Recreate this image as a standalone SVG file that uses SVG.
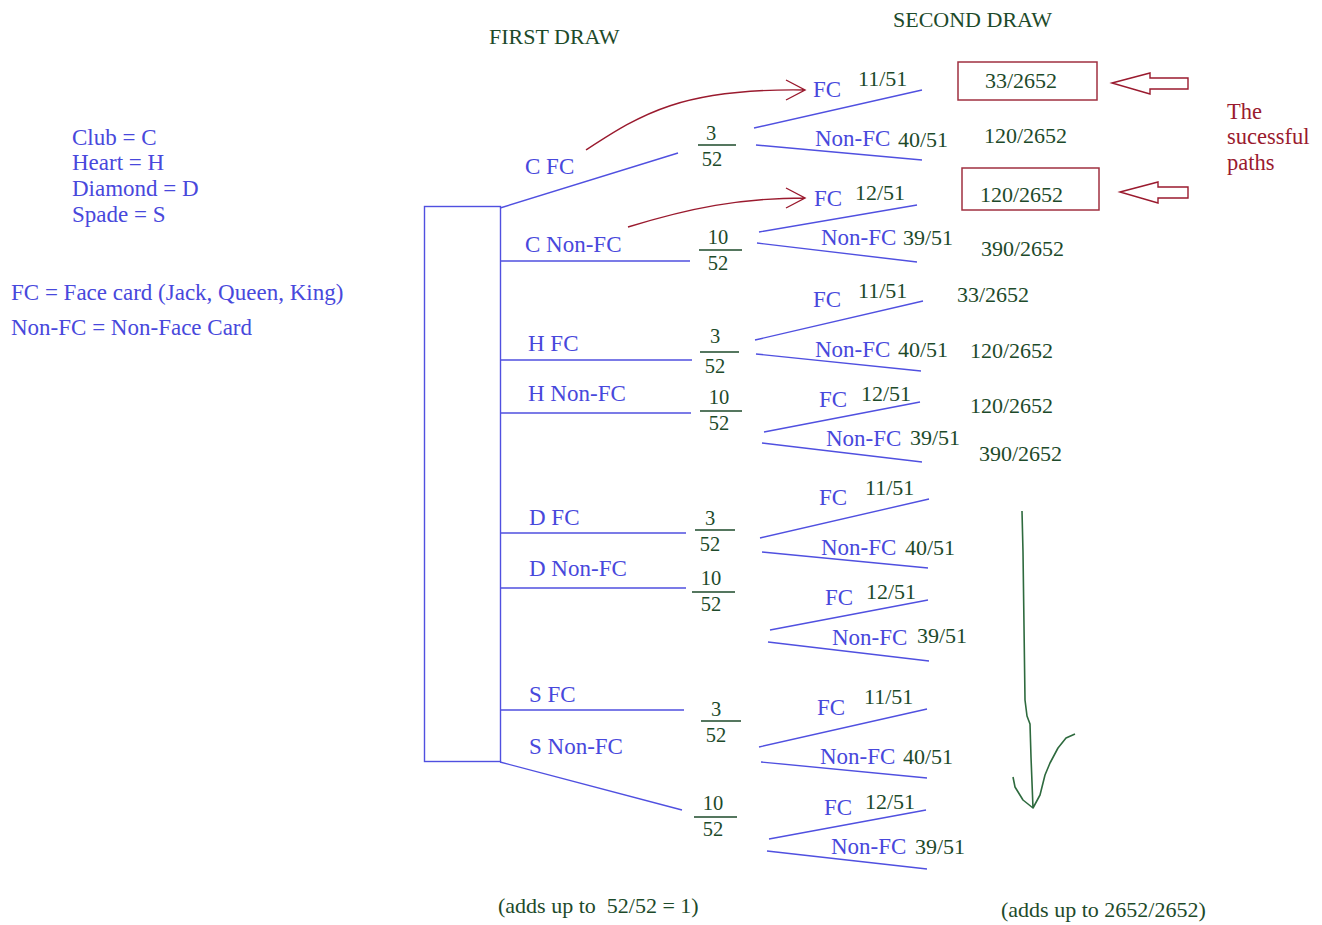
<svg xmlns="http://www.w3.org/2000/svg" width="1322" height="925" viewBox="0 0 1322 925">
<style>
text{font-family:"Liberation Serif","Times New Roman",serif;white-space:pre}
.b{fill:#4848dc;font-size:23px}
.g{fill:#1d4a2a;font-size:22px}
.f{fill:#1d4a2a;font-size:20.5px;text-anchor:middle}
.r{fill:#9a1a2e;font-size:22.5px}
.bl{stroke:#5050e0;stroke-width:1.4;fill:none}
.gl{stroke:#1d4a2a;stroke-width:1.3}
.rl{stroke:#9a1a2e;stroke-width:1.4;fill:none}
.box{stroke:#a03040;stroke-width:1.5;fill:none}
</style>
<rect width="1322" height="925" fill="#fff"/>

<g id="legend">
<text class="b" x="72" y="145">Club = C</text>
<text class="b" x="72" y="170">Heart = H</text>
<text class="b" x="72" y="196">Diamond = D</text>
<text class="b" x="72" y="222">Spade = S</text>
<text class="b" x="11" y="300">FC = Face card (Jack, Queen, King)</text>
<text class="b" x="11" y="335">Non-FC = Non-Face Card</text>
</g>

<g id="titles">
<text class="g" x="489" y="44">FIRST DRAW</text>
<text class="g" x="893" y="27">SECOND DRAW</text>
<text class="g" x="498" y="913">(adds up to  52/52 = 1)</text>
<text class="g" x="1001" y="917">(adds up to 2652/2652)</text>
</g>

<g id="root">
<rect x="424.5" y="206.5" width="76" height="555" class="bl"/>
</g>

<g id="connectors">
<path class="bl" d="M500,208 L678,153 M500,261 L690,261 M500,360 L692,360 M500,413 L691,413 M500,533 L686,533 M500,588 L686,588 M500,710 L684,710 M500,762 L682,810"/>
<path class="bl" d="M754,128 L922,90 M756,145 L922,160 M759,232 L917,205 M757,243 L917,262 M755,340 L923,301 M756,354 L921,371 M764,432 L920,402 M762,443 L922,462 M760,538 L929,499 M762,552 L928,568 M770,630 L928,600 M768,642 L929,661 M759,747 L927,709 M761,762 L927,778 M769,839 L926,810 M767,851 L927,869"/>
<path class="rl" d="M586,150 C640,115 680,88 805,90 M786,80 L805,90 L786,100"/>
<path class="rl" d="M628,227 C690,208 740,198 805,198 M786,188 L805,198 L786,208"/>
<path class="rl" d="M1112,83 L1150,73 L1150,78 L1188,78 L1188,89 L1150,89 L1150,94 Z"/>
<path class="rl" d="M1120,192 L1158,182 L1158,187 L1188,187 L1188,198 L1158,198 L1158,203 Z"/>
<path d="M1022,511 L1023,552 L1025,700 L1027,716 L1030,724 L1031,757 L1033,808 M1013,777 L1015,787 L1023,800 L1033,808 L1040,795 L1045,775 L1050,763 L1058,748 L1066,738 L1075,734" stroke="#2e6a3e" stroke-width="1.6" fill="none" stroke-linejoin="round"/>
</g>

<g id="c-fc">
<text class="b" x="525" y="174">C FC</text>
<text class="f" x="711" y="140">3</text><line class="gl" x1="698" y1="145" x2="736" y2="145"/><text class="f" x="712" y="166">52</text>
<text class="b" x="813" y="97">FC</text><text class="g" x="858" y="86">11/51</text>
<text class="b" x="815" y="146">Non-FC</text><text class="g" x="898" y="147">40/51</text>
<rect class="box" x="958" y="62" width="139" height="38"/>
<text class="g" x="985" y="88">33/2652</text>
<text class="g" x="984" y="143">120/2652</text>
</g>

<g id="c-nonfc">
<text class="b" x="525" y="252">C Non-FC</text>
<text class="f" x="718" y="244">10</text><line class="gl" x1="699" y1="250" x2="742" y2="250"/><text class="f" x="718" y="270">52</text>
<text class="b" x="814" y="206">FC</text><text class="g" x="855" y="200">12/51</text>
<text class="b" x="821" y="245">Non-FC</text><text class="g" x="903" y="245">39/51</text>
<rect class="box" x="962" y="168" width="137" height="42"/>
<text class="g" x="980" y="202">120/2652</text>
<text class="g" x="981" y="256">390/2652</text>
</g>

<g id="h-fc">
<text class="b" x="528" y="351">H FC</text>
<text class="f" x="715" y="343">3</text><line class="gl" x1="700" y1="352" x2="739" y2="352"/><text class="f" x="715" y="373">52</text>
<text class="b" x="813" y="307">FC</text><text class="g" x="858" y="298">11/51</text>
<text class="b" x="815" y="357">Non-FC</text><text class="g" x="898" y="357">40/51</text>
<text class="g" x="957" y="302">33/2652</text>
<text class="g" x="970" y="358">120/2652</text>
</g>

<g id="h-nonfc">
<text class="b" x="528" y="401">H Non-FC</text>
<text class="f" x="719" y="404">10</text><line class="gl" x1="700" y1="411" x2="742" y2="411"/><text class="f" x="719" y="430">52</text>
<text class="b" x="819" y="407">FC</text><text class="g" x="861" y="401">12/51</text>
<text class="b" x="826" y="446">Non-FC</text><text class="g" x="910" y="445">39/51</text>
<text class="g" x="970" y="413">120/2652</text>
<text class="g" x="979" y="461">390/2652</text>
</g>

<g id="d-fc">
<text class="b" x="529" y="525">D FC</text>
<text class="f" x="710" y="525">3</text><line class="gl" x1="695" y1="530" x2="735" y2="530"/><text class="f" x="710" y="551">52</text>
<text class="b" x="819" y="505">FC</text><text class="g" x="865" y="495">11/51</text>
<text class="b" x="821" y="555">Non-FC</text><text class="g" x="905" y="555">40/51</text>
</g>

<g id="d-nonfc">
<text class="b" x="529" y="576">D Non-FC</text>
<text class="f" x="711" y="585">10</text><line class="gl" x1="692" y1="592" x2="735" y2="592"/><text class="f" x="711" y="611">52</text>
<text class="b" x="825" y="605">FC</text><text class="g" x="866" y="599">12/51</text>
<text class="b" x="832" y="645">Non-FC</text><text class="g" x="917" y="643">39/51</text>
</g>

<g id="s-fc">
<text class="b" x="529" y="702">S FC</text>
<text class="f" x="716" y="716">3</text><line class="gl" x1="701" y1="721" x2="741" y2="721"/><text class="f" x="716" y="742">52</text>
<text class="b" x="817" y="715">FC</text><text class="g" x="864" y="704">11/51</text>
<text class="b" x="820" y="764">Non-FC</text><text class="g" x="903" y="764">40/51</text>
</g>

<g id="s-nonfc">
<text class="b" x="529" y="754">S Non-FC</text>
<text class="f" x="713" y="810">10</text><line class="gl" x1="694" y1="817" x2="737" y2="817"/><text class="f" x="713" y="836">52</text>
<text class="b" x="824" y="815">FC</text><text class="g" x="865" y="809">12/51</text>
<text class="b" x="831" y="854">Non-FC</text><text class="g" x="915" y="854">39/51</text>
</g>

<g id="note">
<text class="r" x="1227" y="119">The</text>
<text class="r" x="1227" y="144">sucessful</text>
<text class="r" x="1227" y="170">paths</text>
</g>
</svg>
